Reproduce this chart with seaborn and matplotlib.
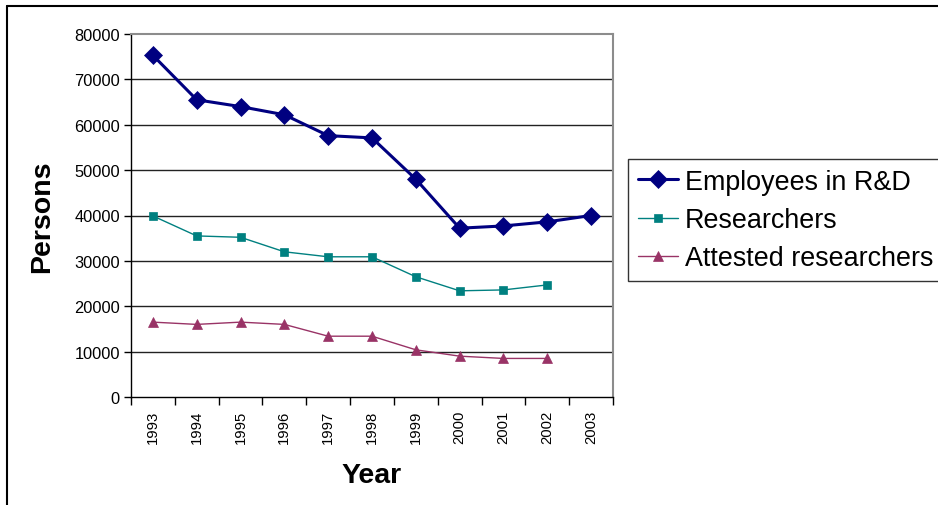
import matplotlib
matplotlib.use("Agg")
import matplotlib.pyplot as plt
from matplotlib.lines import Line2D
from matplotlib.ticker import FixedLocator, NullFormatter
import pandas as pd
import seaborn as sns

# Staff in research and development, by year
years = [1993, 1994, 1995, 1996, 1997, 1998, 1999, 2000, 2001, 2002, 2003]
employees_rd = [75300, 65500, 64000, 62200, 57600, 57100, 48000, 37200, 37700, 38600, 40000]
researchers = [39900, 35500, 35200, 32000, 30900, 30900, 26500, 23400, 23600, 24700]
attested_researchers = [16500, 16000, 16500, 16000, 13400, 13400, 10400, 9000, 8500, 8500]
series_names = ["Employees in R&D", "Researchers", "Attested researchers"]
y_ticks = [0, 10000, 20000, 30000, 40000, 50000, 60000, 70000, 80000]

sns.set_theme(style="white")
plt.rcParams["font.family"] = ["Liberation Sans", "DejaVu Sans"]
plt.rcParams.update({"text.color": "black", "axes.labelcolor": "black",
                     "xtick.color": "black", "ytick.color": "black"})

rows = []
for name, vals in zip(series_names, [employees_rd, researchers, attested_researchers]):
    for i, v in enumerate(vals):
        rows.append({"pos": i, "year": years[i], "value": v, "series": name})
df = pd.DataFrame(rows)

styles = {
    "Employees in R&D": dict(color="#000080", marker="D", markersize=9, linewidth=2.2),
    "Researchers": dict(color="#008080", marker="s", markersize=5.2, linewidth=1.0),
    "Attested researchers": dict(color="#993366", marker="^", markersize=6.6, linewidth=1.0),
}

W, H = 938, 506
fig = plt.figure(figsize=(W / 100, H / 100), dpi=100)
ax = fig.add_axes([131 / W, 1 - 398 / H, (613 - 131) / W, (398 - 35) / H])

for name in series_names:
    st = styles[name]
    sub = df[df["series"] == name]
    sns.lineplot(data=sub, x="pos", y="value", ax=ax, label=name,
                 color=st["color"], marker=st["marker"], markersize=st["markersize"],
                 linewidth=st["linewidth"], markeredgecolor=st["color"],
                 markeredgewidth=0.5, estimator=None, sort=False)

ax.set_xlim(-0.5, len(years) - 0.5)
ax.set_ylim(0, 80000)

# y axis
ax.set_yticks(y_ticks)
ax.set_yticklabels([str(t) for t in y_ticks], fontsize=11.8)
ax.tick_params(axis="y", which="major", direction="out", length=5, width=1,
               color="black", left=True, pad=3)
for t in y_ticks[1:-1]:
    ax.axhline(t, color="#222222", linewidth=1.0, zorder=0.5)

# x axis: labels at category centres, tick marks on category boundaries
ax.xaxis.set_major_locator(FixedLocator(list(range(len(years)))))
ax.set_xticklabels([str(y) for y in years], rotation=90, fontsize=10.7)
ax.xaxis.set_minor_locator(FixedLocator([i - 0.5 for i in range(len(years) + 1)]))
ax.xaxis.set_minor_formatter(NullFormatter())
ax.tick_params(axis="x", which="major", length=0, pad=9)
ax.tick_params(axis="x", which="minor", direction="out", length=6, width=1,
               color="black", bottom=True)

ax.set_xlabel("Year", fontsize=20.5, fontweight="bold", labelpad=14)
ax.set_ylabel("Persons", fontsize=20.5, fontweight="bold", labelpad=14)

for side in ["left", "bottom"]:
    ax.spines[side].set_color("black")
    ax.spines[side].set_linewidth(1.0)
for side in ["top", "right"]:
    ax.spines[side].set_color("#8c8c8c")
    ax.spines[side].set_linewidth(1.5)

handles, labels = ax.get_legend_handles_labels()
ax.get_legend().remove()
leg = fig.legend(handles, labels, loc="upper left",
                 bbox_to_anchor=(628 / W, 1 - 160 / H), bbox_transform=fig.transFigure,
                 fontsize=19.4, frameon=True, fancybox=False, borderaxespad=0,
                 handlelength=1.5, handletextpad=0.26, borderpad=0.36,
                 labelspacing=0.46)
leg.get_frame().set_edgecolor("black")
leg.get_frame().set_linewidth(1.0)

# outer chart border (top and left edges)
fig.add_artist(Line2D([7 / W, 1], [1 - 7 / H, 1 - 7 / H], transform=fig.transFigure,
                      color="black", linewidth=1.5))
fig.add_artist(Line2D([7 / W, 7 / W], [1 - 7 / H, 0], transform=fig.transFigure,
                      color="black", linewidth=1.5))

fig.savefig("out.png", dpi=100)
